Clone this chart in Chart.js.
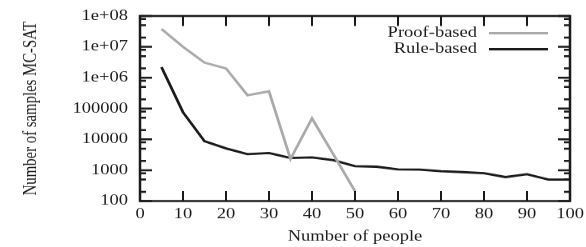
<!DOCTYPE html>
<html lang="en">
<head>
  <meta charset="UTF-8" />
  <title>MC-SAT samples</title>
  <script src="https://cdn.jsdelivr.net/npm/chart.js"></script>
  <style>
    html, body { margin: 0; padding: 0; background: #fff; overflow: hidden; }
    canvas { display: block; }
  </style>
</head>
<body>
  <!-- drawn taller then squeezed to 247px, like the original figure -->
  <canvas id="samplesChart" width="586" height="309" style="width:586px;height:247px"></canvas>
  <script>
    // values
    const proofPeople = [5, 10, 15, 20, 25, 30, 35, 40, 45, 50];
    const proofSamples = [38000000, 10000000, 3100000, 2000000, 270000, 360000, 2300, 48000, 3200, 210];
    const rulePeople = [5, 10, 15, 20, 25, 30, 35, 40, 45, 50, 55, 60, 65, 70, 75, 80, 85, 90, 95, 100];
    const ruleSamples = [2200000, 76000, 8700, 5100, 3300, 3600, 2500, 2600, 2100, 1350, 1300, 1070, 1050, 930, 870, 800, 600, 740, 500, 500];
    const xTicks = [0, 10, 20, 30, 40, 50, 60, 70, 80, 90, 100];
    const decades = [100, 1000, 10000, 100000, 1000000, 10000000, 100000000];

    const FONT = "'Liberation Serif', 'Times New Roman', serif";
    const FS = 18.5;
    const GRAY = "#aaaaaa";
    const BLACK = "#1a1a1a";

    function toPoints(xs, ys) {
      return xs.map((x, i) => ({ x: x, y: ys[i] }));
    }

    function decadeLabel(v) {
      if (v >= 1000000) {
        const exp = Math.round(Math.log10(v));
        return "1e+" + (exp < 10 ? "0" + exp : exp);
      }
      return String(v);
    }

    // gnuplot-like frame with inward ticks, and the legend
    const framePlugin = {
      id: "frame",
      afterDraw(chart) {
        const { ctx, chartArea: a, scales } = chart;
        const xs = scales.x, ys = scales.y;
        ctx.save();
        ctx.strokeStyle = BLACK;
        ctx.lineWidth = 2;

        ctx.beginPath();
        xTicks.forEach(t => {
          const px = xs.getPixelForValue(t);
          ctx.moveTo(px, a.bottom); ctx.lineTo(px, a.bottom - 12.5);
          ctx.moveTo(px, a.top); ctx.lineTo(px, a.top + 12.5);
        });
        ctx.stroke();

        ctx.lineWidth = 2.5;
        ctx.beginPath();
        decades.forEach(d => {
          const py = ys.getPixelForValue(d);
          ctx.moveTo(a.left, py); ctx.lineTo(a.left + 12, py);
          ctx.moveTo(a.right, py); ctx.lineTo(a.right - 12, py);
          if (d < 100000000) {
            [2, 5, 8].forEach(m => {
              const my = ys.getPixelForValue(d * m);
              ctx.moveTo(a.left, my); ctx.lineTo(a.left + 6, my);
              ctx.moveTo(a.right, my); ctx.lineTo(a.right - 6, my);
            });
          }
        });
        ctx.stroke();

        ctx.lineWidth = 2.5;
        ctx.strokeRect(a.left, a.top, a.right - a.left, a.bottom - a.top);

        // legend
        ctx.font = FS + "px " + FONT;
        ctx.fillStyle = BLACK;
        ctx.textAlign = "right";
        ctx.textBaseline = "middle";
        chart.data.datasets.forEach((ds, i) => {
          const y = 41.5 + i * 20;
          ctx.fillText(ds.label, 477, y);
          ctx.strokeStyle = ds.borderColor;
          ctx.lineWidth = 3;
          ctx.beginPath();
          ctx.moveTo(489, y); ctx.lineTo(548, y);
          ctx.stroke();
        });
        ctx.restore();
      }
    };

    new Chart(document.getElementById("samplesChart"), {
      type: "line",
      data: {
        datasets: [
          {
            label: "Proof-based",
            data: toPoints(proofPeople, proofSamples),
            borderColor: GRAY,
            borderWidth: 2.8,
            pointRadius: 0,
            tension: 0
          },
          {
            label: "Rule-based",
            data: toPoints(rulePeople, ruleSamples),
            borderColor: BLACK,
            borderWidth: 2.8,
            pointRadius: 0,
            tension: 0
          }
        ]
      },
      options: {
        responsive: false,
        animation: false,
        layout: { padding: { top: 20, right: 16, left: 0, bottom: 0 } },
        plugins: {
          legend: { display: false },
          tooltip: { enabled: false }
        },
        scales: {
          x: {
            type: "linear",
            min: 0,
            max: 100,
            grid: { display: false, drawTicks: false },
            border: { display: false },
            afterFit(scale) {
              scale.height = 57.5;
              scale.paddingLeft = 0;
              scale.paddingRight = 0;
            },
            ticks: {
              stepSize: 10,
              padding: 6,
              maxRotation: 0,
              color: BLACK,
              font: { family: FONT, size: FS }
            },
            title: {
              display: true,
              text: "Number of people",
              color: BLACK,
              padding: { top: 0, bottom: 1.5 },
              font: { family: FONT, size: FS }
            }
          },
          y: {
            type: "logarithmic",
            min: 100,
            max: 100000000,
            grid: { display: false, drawTicks: false },
            border: { display: false },
            afterFit(scale) {
              scale.width = 140;
              scale.paddingTop = 0;
              scale.paddingBottom = 0;
            },
            afterBuildTicks(scale) {
              scale.ticks = decades.map(v => ({ value: v, major: true }));
            },
            ticks: {
              autoSkip: false,
              padding: 12,
              color: BLACK,
              font: { family: FONT, size: FS },
              callback: v => decadeLabel(v)
            },
            title: {
              display: true,
              text: "Number of samples MC-SAT",
              color: BLACK,
              padding: { top: 20, bottom: 0 },
              font: { family: FONT, size: FS }
            }
          }
        }
      },
      plugins: [framePlugin]
    });
  </script>
</body>
</html>
